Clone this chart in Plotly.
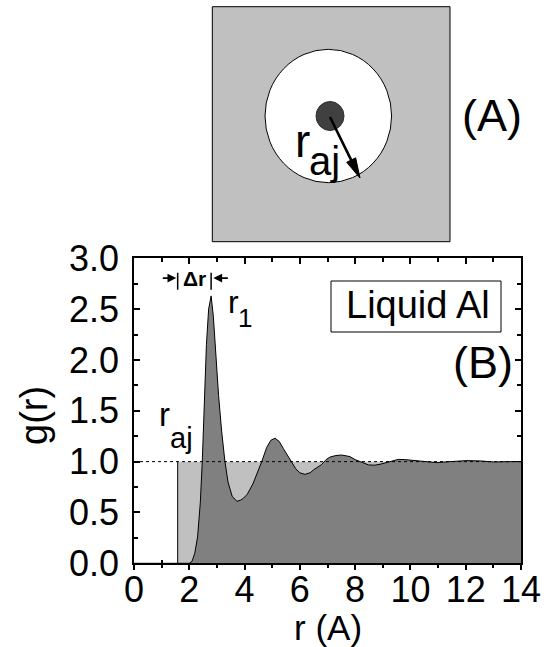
import plotly.graph_objects as go

# Figure size in pixels
W, H = 548, 647

# Radial distribution function g(r) of liquid Al
R_VALUES = [0.0, 2.0, 2.1, 2.2, 2.3, 2.4, 2.47, 2.54, 2.62, 2.70, 2.74, 2.79,
            2.87, 2.95, 3.06, 3.17, 3.29, 3.4, 3.55, 3.72, 3.85, 3.96, 4.1,
            4.3, 4.45, 4.62, 4.8, 4.95, 5.1, 5.25, 5.4, 5.55, 5.71, 5.85, 6.0,
            6.18, 6.37, 6.5, 6.78, 6.95, 7.09, 7.3, 7.51, 7.81, 8.0, 8.17,
            8.48, 8.7, 8.9, 9.26, 9.56, 9.8, 9.99, 10.47, 10.95, 11.43, 12.04,
            12.52, 13.0, 13.6, 14.0]
G_VALUES = [0.0, 0.0, 0.02, 0.1, 0.26, 0.6, 1.0, 1.6, 2.15, 2.5, 2.55, 2.63,
            2.43, 2.05, 1.65, 1.3, 1.0, 0.8, 0.66, 0.61, 0.62, 0.64, 0.68,
            0.78, 0.88, 1.0, 1.14, 1.21, 1.23, 1.2, 1.13, 1.06, 1.0, 0.93, 0.89,
            0.875, 0.89, 0.92, 0.97, 1.02, 1.045, 1.06, 1.065, 1.05, 1.02, 1.0,
            0.968, 0.965, 0.974, 1.0, 1.022, 1.02, 1.015, 1.0, 0.99, 1.0, 1.01,
            1.007, 0.997, 1.0, 1.0]

R_AJ = 1.58      # hard-core cutoff radius r_aj
R1 = 2.79        # first-peak position r_1
R_MAX = 14.0
X_TICKS = [0, 2, 4, 6, 8, 10, 12, 14]
Y_TICKS = [0.0, 0.5, 1.0, 1.5, 2.0, 2.5, 3.0]

LIGHT = "#c0c0c0"
DARK = "#808080"
DOT = "#404040"
FONT = "Liberation Sans, Arial, sans-serif"

# Plot-area placement in pixels
PLOT_L, PLOT_R, PLOT_T, PLOT_B = 134, 521, 258.3, 563.3


def px(x):
    return x / W


def py(y):
    return 1 - y / H


fig = go.Figure()

# Step function: g = 1 for r >= r_aj
fig.add_trace(go.Scatter(x=[R_AJ, R_AJ, R_MAX], y=[0, 1, 1], mode="lines",
                         fill="tozeroy", fillcolor=LIGHT,
                         line=dict(width=0, color="rgba(0,0,0,0)"),
                         hoverinfo="skip", showlegend=False))
fig.add_trace(go.Scatter(x=[R_AJ, R_AJ], y=[0, 1], mode="lines",
                         line=dict(width=1, color="black"),
                         hoverinfo="skip", showlegend=False))
# g(r)
fig.add_trace(go.Scatter(x=R_VALUES, y=G_VALUES, mode="lines",
                         fill="tozeroy", fillcolor=DARK,
                         line=dict(width=1, color="black"),
                         showlegend=False))
# g = 1 reference
fig.add_trace(go.Scatter(x=[0, R_MAX], y=[1, 1], mode="lines",
                         line=dict(width=1, color="black", dash="dot"),
                         hoverinfo="skip", showlegend=False))
# empty traces that carry the extra tick axes
for xa, ya in [("x2", "y"), ("x3", "y")]:
    fig.add_trace(go.Scatter(x=[None], y=[None], xaxis=xa, yaxis=ya,
                             showlegend=False, hoverinfo="skip"))

xdom = [px(PLOT_L), px(PLOT_R)]
ydom = [py(PLOT_B), py(PLOT_T)]

common_x = dict(range=[0, R_MAX], showgrid=False, zeroline=False,
                fixedrange=True, automargin=False, domain=xdom)

fig.update_layout(
    width=W, height=H, template="none",
    margin=dict(l=0, r=0, t=0, b=0, pad=0),
    paper_bgcolor="white", plot_bgcolor="rgba(0,0,0,0)",
    showlegend=False,
    xaxis=dict(**common_x, anchor="y", side="bottom",
               tickmode="array", tickvals=X_TICKS,
               ticktext=[str(v) for v in X_TICKS],
               ticks="outside", ticklen=5, tickwidth=1.5, tickcolor="black",
               minor=dict(tickmode="linear", tick0=0, dtick=1,
                          ticks="outside", ticklen=3, tickwidth=1.5,
                          tickcolor="black"),
               showline=True, linewidth=1.5, linecolor="black",
               ticklabelstandoff=-11,
               tickfont=dict(family=FONT, size=36, color="black"),
               layer="above traces"),
    xaxis2=dict(**common_x, anchor="y", overlaying="x", side="top",
                tickmode="linear", tick0=0, dtick=2,
                ticks="inside", ticklen=6, tickwidth=1.5, tickcolor="black",
                minor=dict(tickmode="linear", tick0=0, dtick=1,
                           ticks="inside", ticklen=4, tickwidth=1.5,
                           tickcolor="black"),
                showticklabels=False, showline=True, linewidth=1.5,
                linecolor="black"),
    xaxis3=dict(**common_x, anchor="y", overlaying="x", side="bottom",
                tickmode="linear", tick0=0, dtick=2,
                ticks="inside", ticklen=3, tickwidth=1.5, tickcolor="black",
                minor=dict(tickmode="linear", tick0=0, dtick=1,
                           ticks="inside", ticklen=3, tickwidth=1.5,
                           tickcolor="black"),
                showticklabels=False, showline=False, layer="below traces"),
    yaxis=dict(range=[0, 3], domain=ydom, anchor="x", showgrid=False,
               zeroline=False, fixedrange=True, automargin=False,
               tickmode="array", tickvals=Y_TICKS,
               ticktext=[f"{v:.1f}" for v in Y_TICKS],
               ticks="inside", ticklen=6, tickwidth=1.5, tickcolor="black",
               minor=dict(tickmode="linear", tick0=0, dtick=0.25,
                          ticks="inside", ticklen=4, tickwidth=1.5,
                          tickcolor="black"),
               showline=True, linewidth=1.5, linecolor="black",
               mirror="ticks", ticklabelstandoff=6,
               tickfont=dict(family=FONT, size=36, color="black"),
               layer="below traces"),
)

shapes = []
annotations = []

# ---- Panel (A): schematic of an atom with its exclusion sphere ----
SQUARE = (212.3, 6.7, 450, 241.7)
CIRCLE_C, CIRCLE_R = (328.3, 116), (63.3, 66.7)
ATOM_C, ATOM_R = (330, 116), (14, 14.5)
ARROW_TAIL, ARROW_TIP = (330, 117), (360, 178)

shapes.append(dict(type="rect", xref="paper", yref="paper",
                   x0=px(SQUARE[0]), x1=px(SQUARE[2]),
                   y0=py(SQUARE[3]), y1=py(SQUARE[1]),
                   fillcolor=LIGHT, line=dict(color="black", width=1)))
shapes.append(dict(type="circle", xref="paper", yref="paper",
                   x0=px(CIRCLE_C[0] - CIRCLE_R[0]), x1=px(CIRCLE_C[0] + CIRCLE_R[0]),
                   y0=py(CIRCLE_C[1] + CIRCLE_R[1]), y1=py(CIRCLE_C[1] - CIRCLE_R[1]),
                   fillcolor="white", line=dict(color="black", width=1)))
shapes.append(dict(type="circle", xref="paper", yref="paper",
                   x0=px(ATOM_C[0] - ATOM_R[0]), x1=px(ATOM_C[0] + ATOM_R[0]),
                   y0=py(ATOM_C[1] + ATOM_R[1]), y1=py(ATOM_C[1] - ATOM_R[1]),
                   fillcolor=DOT, line=dict(color="#303030", width=1)))

# arrow: shaft + elongated head
dx, dy = ARROW_TIP[0] - ARROW_TAIL[0], ARROW_TIP[1] - ARROW_TAIL[1]
ln = (dx * dx + dy * dy) ** 0.5
ux, uy = dx / ln, dy / ln
HEAD_LEN, HEAD_HALF = 20, 5
bx, by = ARROW_TIP[0] - HEAD_LEN * ux, ARROW_TIP[1] - HEAD_LEN * uy
shapes.append(dict(type="line", xref="paper", yref="paper",
                   x0=px(ARROW_TAIL[0]), y0=py(ARROW_TAIL[1]),
                   x1=px(bx + 2 * ux), y1=py(by + 2 * uy),
                   line=dict(color="black", width=2.6)))
p1 = (bx - HEAD_HALF * uy, by + HEAD_HALF * ux)
p2 = (bx + HEAD_HALF * uy, by - HEAD_HALF * ux)
shapes.append(dict(type="path", xref="paper", yref="paper",
                   path=f"M{px(ARROW_TIP[0])},{py(ARROW_TIP[1])} "
                        f"L{px(p1[0])},{py(p1[1])} L{px(p2[0])},{py(p2[1])} Z",
                   fillcolor="black", line=dict(color="black", width=1)))


def text(x, y, s, size, **kw):
    annotations.append(dict(xref="paper", yref="paper", x=px(x), y=py(y),
                            text=s, showarrow=False, xanchor="center",
                            yanchor="middle",
                            font=dict(family=FONT, size=size, color="black"),
                            **kw))


text(302.5, 141, "r", 46)
text(324, 161, "aj", 40)
text(491.7, 116, "(A)", 45)

# ---- Panel (B) labels ----
shapes.append(dict(type="rect", xref="paper", yref="paper",
                   x0=px(331), x1=px(501), y0=py(332), y1=py(281),
                   fillcolor="white", line=dict(color="black", width=1)))
text(417.9, 304.5, "Liquid Al", 38)
text(483, 362, "(B)", 45)
text(233, 302, "r", 32)
text(245, 318, "1", 26)
text(164.5, 414, "r", 33)
text(181.5, 438, "aj", 29)

# |Δr| marker between r_aj and r_1
BAR_Y0, BAR_Y1, ARROW_Y = 2.69, 2.857, 2.805
for xb in (R_AJ, R1):
    shapes.append(dict(type="line", xref="x", yref="y", x0=xb, x1=xb,
                       y0=BAR_Y0, y1=BAR_Y1,
                       line=dict(color="black", width=1.5)))
annotations.append(dict(xref="x", yref="y", x=(R_AJ + R1) / 2, y=2.80,
                        text="<b>Δr</b>", showarrow=False,
                        font=dict(family=FONT, size=21, color="black")))
annotations.append(dict(xref="x", yref="y", x=R_AJ - 0.05, y=ARROW_Y, text="",
                        showarrow=True, arrowhead=2, arrowsize=1.1,
                        arrowwidth=1.6, arrowcolor="black", ax=-15, ay=0))
annotations.append(dict(xref="x", yref="y", x=R1 + 0.08, y=ARROW_Y, text="",
                        showarrow=True, arrowhead=2, arrowsize=1.1,
                        arrowwidth=1.6, arrowcolor="black", ax=16, ay=0))

# axis titles
text(34, 416, "g(r)", 38, textangle=-90)
text(328, 627.5, "r (A)", 35)

fig.update_layout(shapes=shapes, annotations=annotations)
fig.write_html("out.html")
